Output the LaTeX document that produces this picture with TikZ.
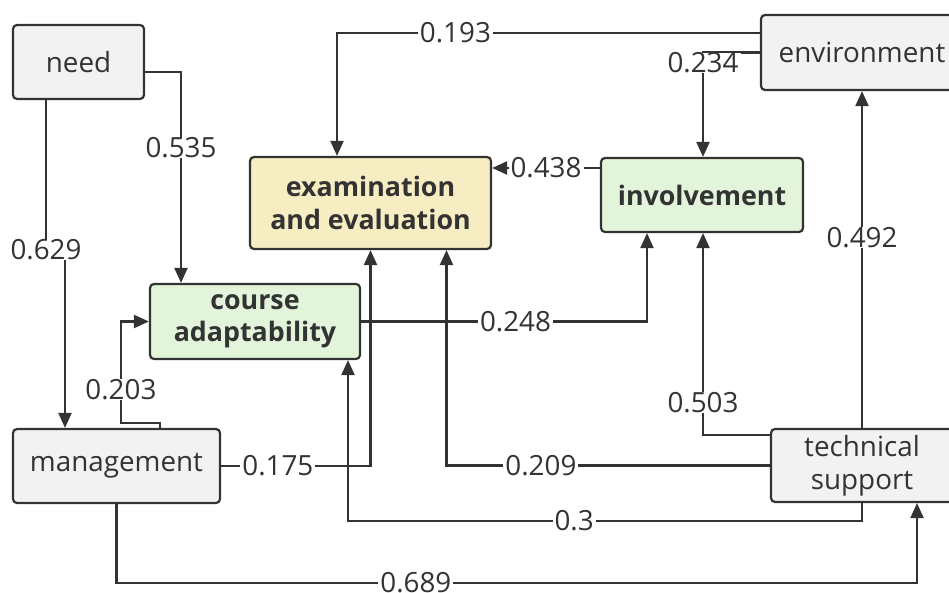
\documentclass[tikz,border=0pt]{standalone}
\usepackage{fontspec}
\setmainfont{Open Sans}
\usepackage{tikz}
\usetikzlibrary{arrows.meta}

\definecolor{inkcol}{HTML}{333333}
\definecolor{greyfill}{HTML}{F2F2F2}
\definecolor{yellowfill}{HTML}{F6EDC2}
\definecolor{greenfill}{HTML}{E2F5DB}

\begin{document}
\begin{tikzpicture}[x=1pt,y=-1pt,
  font=\fontsize{27.8}{33}\selectfont,
  box/.style={draw=inkcol,line width=2.2pt,rounded corners=4pt,fill=greyfill,
    text=inkcol,align=center,inner sep=0pt},
  keybox/.style={box,font=\fontsize{26.8}{32.5}\selectfont\bfseries},
  conn/.style={draw=inkcol,line width=2.2pt,-{Triangle[length=15pt,width=13pt]}},
  lbl/.style={fill=white,text=inkcol,inner xsep=2pt,inner ysep=0pt}]
  \useasboundingbox (0,0) rectangle (949,593);

  % factors
  \node[box,minimum width=131pt,minimum height=74pt] (need) at (78.5,62) {need};
  \node[box,minimum width=202pt,minimum height=75pt] (env) at (862,52.5) {environment};
  \node[box,minimum width=207pt,minimum height=74pt] (mgmt) at (116.5,466) {management};
  \node[box,minimum width=182pt,minimum height=73pt] (tech) at (862,465.5) {technical\\support};
  \node[keybox,fill=yellowfill,minimum width=241pt,minimum height=92pt] (exam) at (370.5,203) {examination\\and evaluation};
  \node[keybox,fill=greenfill,minimum width=202pt,minimum height=74pt] (inv) at (702,195) {involvement};
  \node[keybox,fill=greenfill,minimum width=210pt,minimum height=75pt] (course) at (255,321.5) {course\\adaptability};

  % paths
  \draw[conn] ([xshift=-32.5pt]need.south) |- node[lbl]{0.629} (65,250) -- ([xshift=-51.5pt]mgmt.north);
  \draw[conn] ([yshift=-10pt]need.east) -| node[lbl,pos=0.68]{0.535} ([xshift=-74pt]course.north);
  \draw[conn] ([yshift=19.5pt]env.west) -| node[lbl,pos=0.36]{0.193} ([xshift=-33.5pt]exam.north);
  \draw[conn] (env.west) -| node[lbl,pos=0.55]{0.234} ([xshift=1pt]inv.north);
  \draw[conn] ([yshift=27pt]inv.west) coordinate (p) -- node[lbl]{0.438} (p -| exam.east);
  \draw[conn] (course.east) -| node[lbl,pos=0.27]{0.248} ([xshift=-55pt]inv.south);
  \draw[conn] ([xshift=43.5pt]mgmt.north) -- ++(0,-5) -| node[lbl,pos=0.665]{0.203} ([xshift=-28pt]course.west) -- (course.west);
  \draw[conn] (mgmt.east) -| node[lbl,pos=0.19]{0.175} (exam.south);
  \draw[conn] (tech.west) -| node[lbl,pos=0.354]{0.209} ([xshift=76pt]exam.south);
  \draw[conn] ([yshift=30.5pt]tech.west) -| node[lbl,pos=0.58]{0.503} ([xshift=1pt]inv.south);
  \draw[conn] (tech.south) -- ++(0,18) -| node[lbl,pos=0.28]{0.3} ([xshift=93pt]course.south);
  \draw[conn] (tech.north) -- node[lbl,pos=0.566]{0.492} (env.south);
  \draw[conn] (mgmt.south) -- ++(0,79) -| node[lbl,pos=0.187]{0.689} ([xshift=55pt]tech.south);
\end{tikzpicture}
\end{document}
